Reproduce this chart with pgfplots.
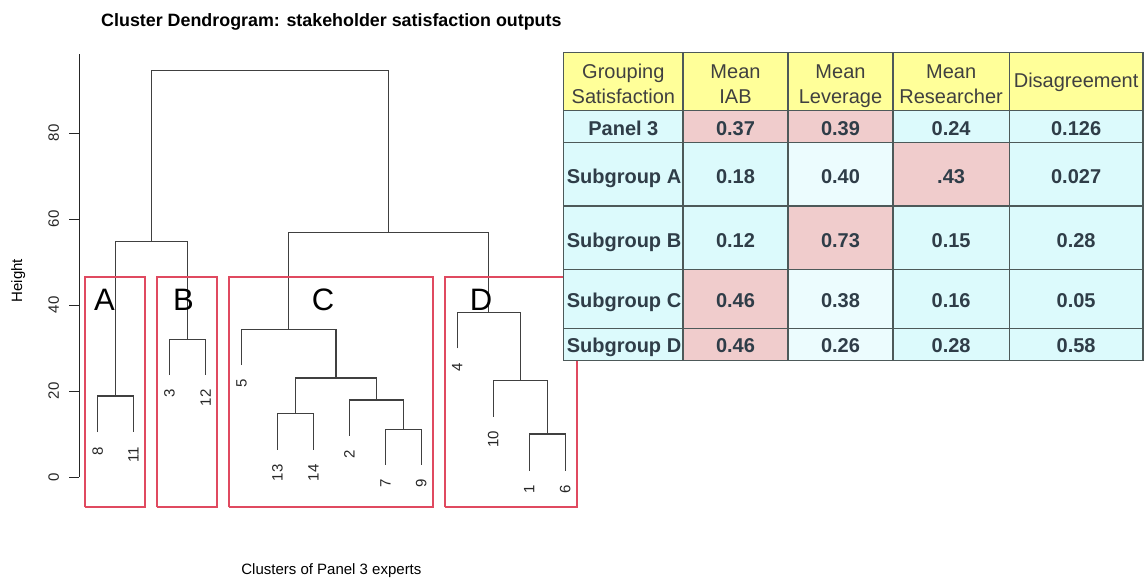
\documentclass[border=0pt]{standalone}
\usepackage{fontspec}
\setmainfont{Liberation Sans}
\usepackage{pgfplots}
\pgfplotsset{compat=1.18}
\definecolor{hdr}{HTML}{FFFF99}
\definecolor{cy}{HTML}{DCFAFC}
\definecolor{cyl}{HTML}{ECFCFE}
\definecolor{pk}{HTML}{F0CCCC}
\definecolor{bd}{HTML}{4D5959}
\definecolor{txt}{HTML}{2F3D48}
\definecolor{htxt}{HTML}{404040}
\definecolor{rred}{HTML}{E04A60}
\newcommand\axfont{\fontsize{11.25pt}{13pt}\selectfont}
\newcommand\tbfont{\fontsize{15pt}{18pt}\selectfont}
\tikzset{
  leaf/.style={rotate=90, anchor=east, inner sep=0pt, font=\axfont, text=black!85},
  big/.style={font=\fontsize{23.25pt}{26pt}\selectfont, inner sep=0pt},
}
\begin{document}
\begin{tikzpicture}
\begin{axis}[
  at={(59.4pt,54.375pt)}, anchor=south west, scale only axis,
  width=378.3pt, height=340.24pt,
  xmin=0.488, xmax=14.512, ymin=-7.1, ymax=98.4,
  axis lines*=left,
  x axis line style={draw=none},
  y axis line style={draw=none},
  xtick=\empty,
  ytick={0,20,40,60,80},
  tick align=outside,
  major tick length=7.5pt,
  tick style={black!85, line width=0.6pt},
  yticklabel style={rotate=90, anchor=south, inner sep=0pt, inner ysep=7.5pt, font=\axfont, text=black!85},
  /pgf/number format/assume math mode=true,
  clip=false,
  title={Cluster Dendrogram: stakeholder satisfaction outputs},
  every axis title/.style={at={(axis description cs:0.5,1)}, anchor=base, yshift=20.4pt, font=\bfseries\fontsize{13.4pt}{16pt}\selectfont},
  xlabel={Clusters of Panel 3 experts},
  every axis x label/.style={at={(axis description cs:0.5,0)}, anchor=base, yshift=-49.9pt, font=\axfont},
  ylabel={Height},
  every axis y label/.style={at={([xshift=-42.75pt]axis description cs:0,0.5)}, rotate=90, anchor=base, font=\axfont},
]
\draw[black!85, line width=0.6pt] (axis cs:0.488,0) -- (axis cs:0.488,98.4);
% dendrogram merges
\addplot[black!75, line width=1pt] coordinates {(1,10.4) (1,18.8) (2,18.8) (2,10.4)};
\addplot[black!75, line width=1pt] coordinates {(3,23.7) (3,32.0) (4,32.0) (4,23.7)};
\addplot[black!75, line width=1pt] coordinates {(1.5,18.8) (1.5,54.8) (3.5,54.8) (3.5,32.0)};
\addplot[black!75, line width=1pt] coordinates {(6,6.3) (6,14.7) (7,14.7) (7,6.3)};
\addplot[black!75, line width=1pt] coordinates {(9,2.8) (9,11.1) (10,11.1) (10,2.8)};
\addplot[black!75, line width=1pt] coordinates {(8,9.6) (8,17.9) (9.5,17.9) (9.5,11.1)};
\addplot[black!75, line width=1pt] coordinates {(6.5,14.7) (6.5,23.0) (8.75,23.0) (8.75,17.9)};
\addplot[black!75, line width=1pt] coordinates {(5,26.0) (5,34.3) (7.625,34.3) (7.625,23.0)};
\addplot[black!75, line width=1pt] coordinates {(13,1.4) (13,10.0) (14,10.0) (14,1.4)};
\addplot[black!75, line width=1pt] coordinates {(12,14.0) (12,22.4) (13.5,22.4) (13.5,10.0)};
\addplot[black!75, line width=1pt] coordinates {(11,29.9) (11,38.3) (12.75,38.3) (12.75,22.4)};
\addplot[black!75, line width=1pt] coordinates {(6.3125,34.3) (6.3125,56.8) (11.875,56.8) (11.875,38.3)};
\addplot[black!75, line width=1pt] coordinates {(2.5,54.8) (2.5,94.5) (9.09375,94.5) (9.09375,56.8)};
% leaf labels
\node[leaf] at (axis cs:1,7.1) {8};
\node[leaf] at (axis cs:2,7.1) {11};
\node[leaf] at (axis cs:3,20.4) {3};
\node[leaf] at (axis cs:4,20.4) {12};
\node[leaf] at (axis cs:5,22.7) {5};
\node[leaf] at (axis cs:6,3.0) {13};
\node[leaf] at (axis cs:7,3.0) {14};
\node[leaf] at (axis cs:8,6.3) {2};
\node[leaf] at (axis cs:9,-0.5) {7};
\node[leaf] at (axis cs:10,-0.5) {9};
\node[leaf] at (axis cs:11,26.6) {4};
\node[leaf] at (axis cs:12,10.7) {10};
\node[leaf] at (axis cs:13,-1.9) {1};
\node[leaf] at (axis cs:14,-1.9) {6};
% cluster rectangles
\addplot[rred, line width=1.5pt] coordinates {(0.66,-7.1) (0.66,46.6) (2.33,46.6) (2.33,-7.1) (0.66,-7.1)};
\addplot[rred, line width=1.5pt] coordinates {(2.66,-7.1) (2.66,46.6) (4.33,46.6) (4.33,-7.1) (2.66,-7.1)};
\addplot[rred, line width=1.5pt] coordinates {(4.66,-7.1) (4.66,46.6) (10.33,46.6) (10.33,-7.1) (4.66,-7.1)};
\addplot[rred, line width=1.5pt] coordinates {(10.66,-7.1) (10.66,46.6) (14.33,46.6) (14.33,-7.1) (10.66,-7.1)};
\node[big] at (axis cs:1.19,41.2) {A};
\node[big] at (axis cs:3.39,41.2) {B};
\node[big] at (axis cs:7.27,41.2) {C};
\node[big] at (axis cs:11.66,41.2) {D};
\end{axis}
% ---- table ----
\begin{scope}[x=0.75pt,y=0.75pt]
\fill[hdr] (563.7,469.3) rectangle (1143,527.7);
% row 1 (Panel 3)
\fill[cy] (563.7,437.3) rectangle (683,469.3);
\fill[pk] (683,437.3) rectangle (788,469.3);
\fill[pk] (788,437.3) rectangle (893,469.3);
\fill[cy] (893,437.3) rectangle (1143,469.3);
% row 2 (A)
\fill[cy] (563.7,374) rectangle (788,437.3);
\fill[cyl] (788,374) rectangle (893,437.3);
\fill[pk] (893,374) rectangle (1009.2,437.3);
\fill[cy] (1009.2,374) rectangle (1143,437.3);
% row 3 (B)
\fill[cy] (563.7,310.7) rectangle (788,374);
\fill[pk] (788,310.7) rectangle (893,374);
\fill[cy] (893,310.7) rectangle (1143,374);
% row 4 (C)
\fill[cy] (563.7,251.7) rectangle (683,310.7);
\fill[pk] (683,251.7) rectangle (788,310.7);
\fill[cyl] (788,251.7) rectangle (893,310.7);
\fill[cy] (893,251.7) rectangle (1143,310.7);
% row 5 (D)
\fill[cy] (563.7,219.3) rectangle (683,251.7);
\fill[pk] (683,219.3) rectangle (788,251.7);
\fill[cyl] (788,219.3) rectangle (893,251.7);
\fill[cy] (893,219.3) rectangle (1143,251.7);
% grid
\foreach \gx in {563.7,683,788,893,1009.2,1143}{\draw[bd, line width=0.9pt] (\gx,219.3) -- (\gx,527.7);}
\foreach \gy in {527.7,469.3,437.3,374,310.7,251.7,219.3}{\draw[bd, line width=0.9pt] (563.7,\gy) -- (1143,\gy);}
% header text
\begin{scope}[every node/.style={font=\tbfont, text=htxt, inner sep=0pt, anchor=base}]
\node at (623.35,501.5) {Grouping};
\node at (623.35,476.2) {Satisfaction};
\node at (735.5,501.5) {Mean};
\node at (735.5,476.2) {IAB};
\node at (840.5,501.5) {Mean};
\node at (840.5,476.2) {Leverage};
\node at (951.1,501.5) {Mean};
\node at (951.1,476.2) {Researcher};
\node at (1076.1,492) {Disagreement};
\end{scope}
\begin{scope}[every node/.style={font=\bfseries\tbfont, text=txt, inner sep=0pt, anchor=base}]
\node at (623.35,444.5) {Panel 3};
\node[anchor=base west] at (566.5,396.1) {Subgroup A};
\node[anchor=base west] at (566.5,332.8) {Subgroup B};
\node[anchor=base west] at (566.5,272.8) {Subgroup C};
\node[anchor=base west] at (566.5,227.8) {Subgroup D};
\foreach \yy/\a/\b/\c/\d in {444.5/0.37/0.39/0.24/0.126, 396.1/0.18/0.40/.43/0.027, 332.8/0.12/0.73/0.15/0.28, 272.8/0.46/0.38/0.16/0.05, 227.8/0.46/0.26/0.28/0.58}{
  \node at (735.5,\yy) {\a};
  \node at (840.5,\yy) {\b};
  \node at (951.1,\yy) {\c};
  \node at (1076.1,\yy) {\d};
}
\end{scope}
\pgfresetboundingbox
\path (0,0) rectangle (1148,580);
\end{scope}
\end{tikzpicture}
\end{document}
